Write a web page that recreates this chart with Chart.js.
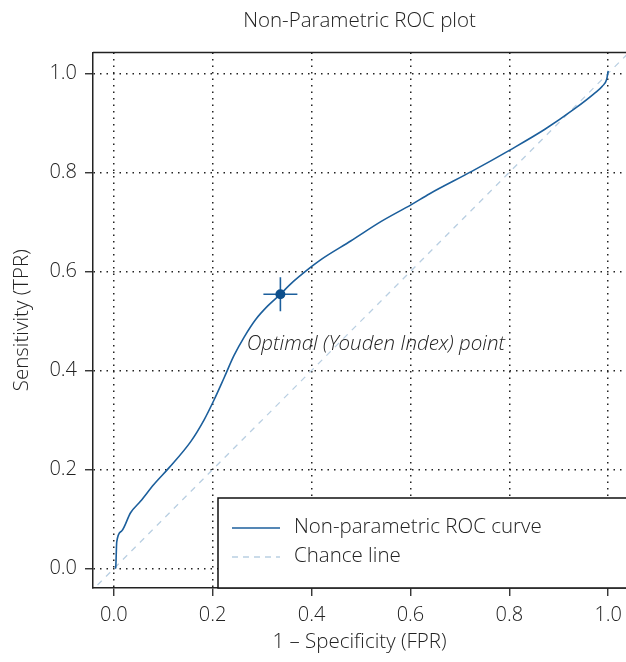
<!DOCTYPE html>
<html>
<head>
<meta charset="utf-8">
<script src="https://cdn.jsdelivr.net/npm/chart.js@4.4.1/dist/chart.umd.min.js"></script>
<style>
  html, body { margin: 0; padding: 0; background: #fff; }
  #wrap { width: 626px; height: 662px; position: relative; }
</style>
</head>
<body>
<div id="wrap"><canvas id="c" width="626" height="662"></canvas></div>
<script>
// ---- data ----
const rocFPR = [0.003, 0.004, 0.006, 0.016, 0.034, 0.054, 0.081, 0.112, 0.156, 0.183, 0.203, 0.223, 0.243, 0.264, 0.287, 0.312, 0.337, 0.358, 0.399, 0.419, 0.480, 0.541, 0.602, 0.639, 0.724, 0.801, 0.872, 0.933, 0.974, 0.988, 0.997, 1.0];
const rocTPR = [0.000, 0.003, 0.054, 0.076, 0.113, 0.136, 0.170, 0.204, 0.257, 0.301, 0.341, 0.385, 0.430, 0.468, 0.503, 0.531, 0.554, 0.575, 0.609, 0.624, 0.662, 0.701, 0.735, 0.757, 0.802, 0.845, 0.887, 0.929, 0.961, 0.974, 0.988, 1.005];
const chanceX = [-0.05, 1.05];
const chanceY = [-0.05, 1.05];
const youdenX = [0.337];
const youdenY = [0.554];
const tickValues = [0.0, 0.2, 0.4, 0.6, 0.8, 1.0];
const titleText = 'Non-Parametric ROC plot';
const xTitle = '1 \u2013 Specificity (FPR)';
const yTitle = 'Sensitivity (TPR)';
const annotationText = 'Optimal (Youden Index) point';
const legendLabels = ['Non-parametric ROC curve', 'Chance line'];

const FONT = "'Open Sans', 'Noto Sans', sans-serif";
const TXT = '#222';
const CURVE = '#1c5f9c';
const DOT = '#0d4f8c';
const CHANCE = '#b9cfe2';

const toPts = (xs, ys) => xs.map((x, i) => ({x: x, y: ys[i]}));

const extras = {
  id: 'extras',
  afterDraw(chart) {
    const ctx = chart.ctx;
    const a = chart.chartArea;
    const xs = chart.scales.x;
    ctx.save();
    // top spine
    ctx.strokeStyle = '#222';
    ctx.lineWidth = 1.5;
    ctx.beginPath();
    ctx.moveTo(a.left, a.top);
    ctx.lineTo(a.right, a.top);
    ctx.stroke();
    // title
    ctx.fillStyle = TXT;
    ctx.font = "300 20.5px " + FONT;
    ctx.textAlign = 'center';
    ctx.textBaseline = 'alphabetic';
    ctx.fillText(titleText, (a.left + a.right) / 2, 27);
    // annotation
    ctx.font = "italic 300 20.5px " + FONT;
    ctx.fillText(annotationText, xs.getPixelForValue(0.53), 350);
    // legend box
    const lx = 218, ly = 498;
    ctx.fillStyle = '#fff';
    ctx.fillRect(lx, ly, a.right - lx + 20, a.bottom - ly);
    ctx.strokeStyle = '#111';
    ctx.lineWidth = 1.5;
    ctx.strokeRect(lx, ly, a.right - lx + 20, a.bottom - ly);
    ctx.lineWidth = 1.6;
    ctx.strokeStyle = CURVE;
    ctx.beginPath(); ctx.moveTo(232, 528); ctx.lineTo(280, 528); ctx.stroke();
    ctx.strokeStyle = CHANCE;
    ctx.setLineDash([6, 5]);
    ctx.beginPath(); ctx.moveTo(232, 557); ctx.lineTo(280, 557); ctx.stroke();
    ctx.setLineDash([]);
    ctx.fillStyle = TXT;
    ctx.font = "300 20.5px " + FONT;
    ctx.textAlign = 'left';
    ctx.textBaseline = 'middle';
    ctx.fillText(legendLabels[0], 294, 527);
    ctx.fillText(legendLabels[1], 294, 556);
    ctx.restore();
  }
};

const tickCb = (v) => Number(v).toFixed(1);
const noPad = (s) => { s.paddingLeft = 0; s.paddingRight = 0; s.paddingTop = 0; s.paddingBottom = 0; };

new Chart(document.getElementById('c'), {
  type: 'scatter',
  data: {
    datasets: [
      {
        label: legendLabels[1],
        data: toPts(chanceX, chanceY),
        showLine: true,
        borderColor: CHANCE,
        borderWidth: 1.3,
        borderDash: [6, 6],
        pointRadius: 0,
        order: 3
      },
      {
        label: legendLabels[0],
        data: toPts(rocFPR, rocTPR),
        showLine: true,
        borderColor: CURVE,
        borderWidth: 1.6,
        cubicInterpolationMode: 'monotone',
        pointRadius: 0,
        order: 2
      },
      {
        label: 'Youden cross',
        data: toPts(youdenX, youdenY),
        pointStyle: 'cross',
        pointRadius: 17,
        pointBorderWidth: 1.6,
        borderColor: CURVE,
        backgroundColor: CURVE,
        order: 1
      },
      {
        label: 'Youden point',
        data: toPts(youdenX, youdenY),
        pointStyle: 'circle',
        pointRadius: 5,
        pointBorderWidth: 0,
        backgroundColor: DOT,
        borderColor: DOT,
        order: 0
      }
    ]
  },
  options: {
    responsive: false,
    animation: false,
    events: [],
    layout: { autoPadding: false, padding: { top: 52.5, right: 0, left: 0, bottom: 0 } },
    plugins: {
      legend: { display: false },
      title: { display: false },
      tooltip: { enabled: false }
    },
    scales: {
      x: {
        type: 'linear',
        min: -0.042, max: 1.036,
        afterBuildTicks: (s) => { s.ticks = tickValues.map(v => ({value: v})); },
        afterFit: (s) => { s.height = 74; noPad(s); },
        ticks: { includeBounds: false, callback: tickCb, color: TXT, padding: 7, maxRotation: 0,
                 font: { family: FONT, size: 20, weight: 300 } },
        grid: { color: '#222', lineWidth: 1.5, tickLength: 8, tickColor: '#222', tickWidth: 1.3, tickBorderDash: [] },
        border: { color: '#222', width: 1.5, dash: [1.5, 5] },
        title: { display: true, text: xTitle, color: TXT, padding: { top: 0, bottom: 8 },
                 font: { family: FONT, size: 20.5, weight: 300 } }
      },
      y: {
        type: 'linear',
        min: -0.039, max: 1.042,
        afterBuildTicks: (s) => { s.ticks = tickValues.map(v => ({value: v})); },
        afterFit: (s) => { s.width = 93; noPad(s); },
        ticks: { includeBounds: false, callback: tickCb, color: TXT, padding: 8,
                 font: { family: FONT, size: 20, weight: 300 } },
        grid: { color: '#222', lineWidth: 1.5, tickLength: 8, tickColor: '#222', tickWidth: 1.3, tickBorderDash: [] },
        border: { color: '#222', width: 1.5, dash: [1.5, 5] },
        title: { display: true, text: yTitle, color: TXT, padding: { top: 10, bottom: 0 },
                 font: { family: FONT, size: 20.5, weight: 300 } }
      }
    }
  },
  plugins: [extras]
});
</script>
</body>
</html>
